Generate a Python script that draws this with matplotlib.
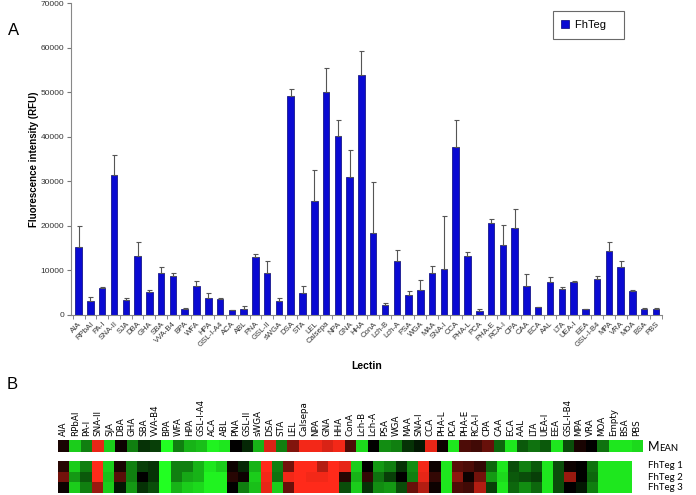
import numpy as np
import matplotlib
matplotlib.use("Agg")
import matplotlib.pyplot as plt
from matplotlib.colors import LinearSegmentedColormap

plt.rcParams["font.family"] = ["Liberation Sans", "DejaVu Sans"]

# panel A: lectin array, mean RFU and SD (upper error bar)
lectins = ["AIA", "RPbAI", "PA-I", "SNA-II", "SJA", "DBA", "GHA", "SBA", "VVA-B4", "BPA",
           "WFA", "HPA", "GSL-I-A4", "ACA", "ABL", "PNA", "GSL-II", "sWGA", "DSA", "STA",
           "LEL", "Calsepa", "NPA", "GNA", "HHA", "ConA", "Lch-B", "Lch-A", "PSA", "WGA",
           "MAA", "SNA-I", "CCA", "PHA-L", "PCA", "PHA-E", "RCA-I", "CPA", "CAA", "ECA",
           "AAL", "LTA", "UEA-I", "EEA", "GSL-I-B4", "MPA", "VRA", "MOA", "BSA", "PBS"]
rfu = [15300, 3200, 6000, 31400, 3400, 13300, 5200, 9400, 8700, 1300,
       6500, 3800, 3600, 1000, 1400, 12900, 9500, 3100, 49300, 4800,
       25600, 50000, 40100, 31000, 53900, 18500, 2250, 12000, 4400, 5600,
       9500, 10400, 37700, 13200, 750, 20600, 15600, 19600, 6500, 1700,
       7450, 5700, 7450, 1300, 8050, 14400, 10700, 5400, 1300, 1400]
sd = [4600, 700, 350, 4600, 450, 3000, 300, 1450, 600, 150,
      1200, 1200, 200, 100, 650, 700, 2500, 600, 1550, 1650,
      6900, 5600, 3700, 6100, 5400, 11300, 500, 2600, 900, 2300,
      1400, 11800, 6000, 1000, 450, 900, 4500, 4300, 2700, 150,
      950, 550, 100, 100, 600, 2050, 1500, 100, 300, 100]

# panel B: heat map (-1 green, 0 black, +1 red)
heat_cols = lectins[:-2] + ["Empty", "BSA", "PBS"]
mean_row = [0.1, -0.8, -0.5, 0.9, -0.8, 0.05, -0.5, -0.2, -0.25, -1.0,
            -0.5, -0.7, -0.75, -0.95, -0.9, 0.0, -0.15, -0.7, 0.85, -0.5,
            0.5, 0.95, 0.95, 0.85, 0.95, 0.3, -0.85, 0.0, -0.55, -0.5,
            -0.2, -0.1, 0.9, 0.05, -0.9, 0.3, 0.25, 0.4, -0.4, -0.9,
            -0.35, -0.45, -0.35, -0.9, -0.3, 0.1, 0.0, -0.45, -0.9, -0.9, -0.85]
fhteg1 = [0.15, -0.8, -0.5, 1.0, -0.8, 0.1, -0.5, -0.25, -0.2, -1.0,
          -0.5, -0.5, -0.7, -0.9, -0.8, 0.05, -0.15, -0.7, 1.0, -0.5,
          0.45, 1.0, 1.0, 0.7, 1.0, 0.9, -0.8, 0.0, -0.6, -0.5,
          -0.2, -0.55, 0.95, 0.05, -0.9, 0.35, 0.3, 0.2, -0.4, -0.9,
          -0.3, -0.5, -0.35, -0.9, -0.3, 0.05, 0.0, -0.45, -0.9, -0.9, -0.9]
fhteg2 = [0.45, -0.6, -0.35, 1.0, -0.75, 0.35, -0.5, 0.0, -0.2, -1.0,
          -0.5, -0.65, -0.7, -0.95, -0.95, 0.15, 0.05, -0.8, 0.95, -0.45,
          0.95, 1.0, 0.95, 0.95, 1.0, 0.15, -0.7, 0.2, -0.45, -0.25,
          0.0, -0.5, 0.9, 0.2, -0.9, 0.55, 0.05, 0.45, -0.6, -0.85,
          -0.35, -0.3, -0.25, -0.9, -0.3, 0.6, 0.0, -0.4, -0.9, -0.9, -0.9]
fhteg3 = [0.05, -0.8, -0.5, 0.6, -0.8, -0.1, -0.6, -0.2, -0.3, -1.0,
          -0.7, -0.8, -0.85, -0.95, -0.95, 0.0, -0.5, -0.75, 0.9, -0.8,
          0.4, 1.0, 1.0, 1.0, 1.0, -0.3, -0.8, -0.2, -0.55, -0.6,
          -0.3, 0.4, 0.7, 0.05, -0.9, 0.3, 0.25, 0.7, -0.25, -0.9,
          -0.4, -0.55, -0.4, -0.9, -0.3, 0.0, -0.1, -0.5, -0.9, -0.9, -0.9]
row_labels = ["FhTeg 1", "FhTeg 2", "FhTeg 3"]

fig = plt.figure(figsize=(6.96, 4.95), dpi=100)

# ---- panel A
ax = fig.add_axes([0.102, 0.364, 0.849, 0.629])
x = np.arange(len(lectins))
ax.bar(x, rfu, width=0.55, color="#0a0ad2", edgecolor="#00007a", linewidth=0.5,
       yerr=[np.zeros(len(sd)), sd], capsize=1.8,
       error_kw=dict(ecolor="#555555", elinewidth=0.8, capthick=0.8), label="FhTeg")
ax.set_xlim(-0.65, 49.5)
ax.set_ylim(0, 70000)
ax.set_yticks(np.arange(0, 70001, 10000))
ax.tick_params(axis="y", labelsize=6, length=3, color="#777777", labelcolor="#333333", pad=2)
ax.set_xticks(x)
ax.set_xticklabels(lectins, rotation=45, ha="right", rotation_mode="anchor", fontsize=5.6,
                   color="#333333")
ax.tick_params(axis="x", length=0, pad=4)
ax.set_xticks(np.arange(-0.5, 50, 1), minor=True)
ax.tick_params(axis="x", which="minor", length=3, color="#777777")
for s in ["top", "right"]:
    ax.spines[s].set_visible(False)
ax.spines["left"].set_color("#888888")
ax.spines["bottom"].set_color("#888888")
ax.set_ylabel("Fluorescence intensity (RFU)", fontsize=7, fontweight="bold", labelpad=1)
ax.set_xlabel("Lectin", fontsize=7.5, fontweight="bold", labelpad=9)
leg = ax.legend(loc="upper left", bbox_to_anchor=(0.815, 0.975), fontsize=8, frameon=True,
                fancybox=False, edgecolor="#444444", handlelength=0.7, handleheight=0.7,
                borderpad=0.8, handletextpad=0.5, borderaxespad=0)
leg.get_frame().set_linewidth(0.8)
leg.get_texts()[0].set_text("FhTeg   ")

fig.text(0.012, 0.93, "A", fontsize=12)
fig.text(0.010, 0.215, "B", fontsize=12)

# ---- panel B
cmap = LinearSegmentedColormap.from_list("rg", ["#22ff22", "#000000", "#ff2a1a"])

axm = fig.add_axes([0.0833, 0.087, 0.8391, 0.0242])
axm.imshow(np.array([mean_row]), cmap=cmap, vmin=-1, vmax=1, aspect="auto",
           interpolation="nearest")
axm.set_yticks([])
axm.xaxis.tick_top()
axm.set_xticks(np.arange(len(heat_cols)))
axm.set_xticklabels(heat_cols, rotation=90, fontsize=6.3, family=["DejaVu Sans"])
axm.tick_params(axis="x", length=0, pad=3)
for s in axm.spines.values():
    s.set_visible(False)

axf = fig.add_axes([0.0833, 0.004, 0.8247, 0.0646])
axf.imshow(np.array([fhteg1, fhteg2, fhteg3]), cmap=cmap, vmin=-1, vmax=1, aspect="auto",
           interpolation="nearest")
axf.set_xticks([])
axf.set_yticks([])
for s in axf.spines.values():
    s.set_visible(False)

t = fig.text(0.931, 0.088, "M", fontsize=9, family=["Lato", "DejaVu Sans"])
plt.annotate("EAN", xy=(1, 0), xycoords=t, fontsize=6.8, va="bottom",
             family=["Lato", "DejaVu Sans"], annotation_clip=False)
for i, lab in enumerate(row_labels):
    fig.text(0.931, 1 - (466 + 11 * i) / 495, lab, fontsize=7, va="center",
             family=["Lato", "DejaVu Sans"])

fig.savefig("out.png", dpi=100)
